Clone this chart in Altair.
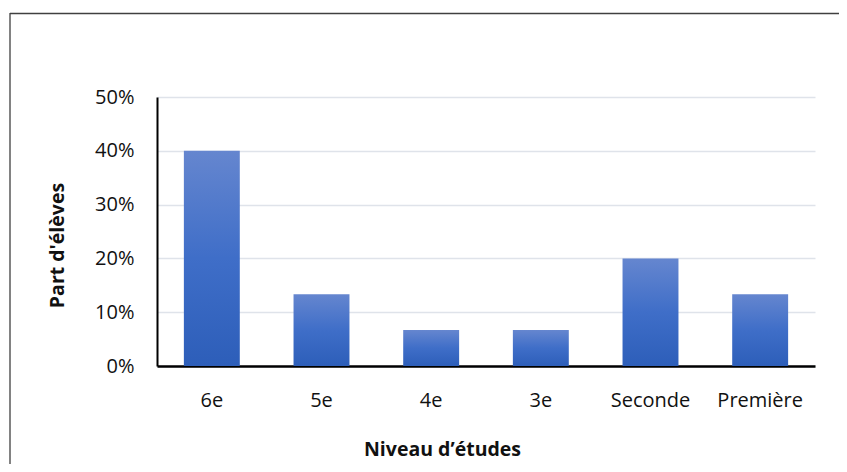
import altair as alt
import pandas as pd

niveaux = ["6e", "5e", "4e", "3e", "Seconde", "Première"]
parts = [0.40, 0.1333, 0.0667, 0.0667, 0.20, 0.1333]
y_ticks = [0, 0.1, 0.2, 0.3, 0.4, 0.5]

df = pd.DataFrame({"niveau": niveaux, "part": parts})

FONT = "Open Sans"

bars = alt.Chart(df).mark_bar(
    color=alt.Gradient(
        gradient="linear",
        stops=[
            alt.GradientStop(color="#6586CF", offset=0),
            alt.GradientStop(color="#3F6EC8", offset=0.5),
            alt.GradientStop(color="#2D5EB9", offset=1),
        ],
        x1=0, x2=0, y1=0, y2=1,
    )
).encode(
    x=alt.X(
        "niveau:N",
        sort=niveaux,
        scale=alt.Scale(paddingInner=0.49, paddingOuter=0.245),
        axis=alt.Axis(
            title="Niveau d’études",
            labelAngle=0,
            labelFont=FONT,
            labelFontSize=20,
            labelColor="#111111",
            labelPadding=24,
            ticks=False,
            tickSize=0,
            domainColor="#000000",
            domainWidth=2.5,
            titleFont=FONT,
            titleFontSize=19.5,
            titleFontWeight="bold",
            titleColor="#111111",
            titleX=285,
            titleY=83,
            titleAlign="center",
            titleBaseline="middle",
            grid=False,
        ),
    ),
    y=alt.Y(
        "part:Q",
        scale=alt.Scale(domain=[0, 0.5], nice=False),
        axis=alt.Axis(
            title="Part d'élèves",
            values=y_ticks,
            format=".0%",
            labelFont=FONT,
            labelFontSize=20,
            labelColor="#111111",
            labelPadding=23,
            ticks=False,
            tickSize=0,
            domainColor="#000000",
            domainWidth=2,
            gridColor="#DFE3EA",
            gridWidth=1.5,
            titleFont=FONT,
            titleFontSize=19.5,
            titleFontWeight="bold",
            titleColor="#111111",
            titleX=-100,
            titleY=148,
            titleAlign="center",
            titleBaseline="middle",
        ),
    ),
)

frame_df = pd.DataFrame({"a": [0]})
left_border = alt.Chart(frame_df).mark_rule(color="#595959", strokeWidth=1.5).encode(
    x=alt.value(-147), y=alt.value(-84), y2=alt.value(500)
)
top_border = alt.Chart(frame_df).mark_rule(color="#404040", strokeWidth=1.5).encode(
    x=alt.value(-147), x2=alt.value(690), y=alt.value(-83.5)
)

chart = alt.layer(bars, left_border, top_border).properties(
    width=658,
    height=269,
    padding={"left": 149, "top": 89, "right": 24, "bottom": 98},
    autosize=alt.AutoSizeParams(type="none"),
    background="#ffffff",
).configure_view(stroke=None)

chart.save("out.html", embed_options={"renderer": "svg", "actions": False})
